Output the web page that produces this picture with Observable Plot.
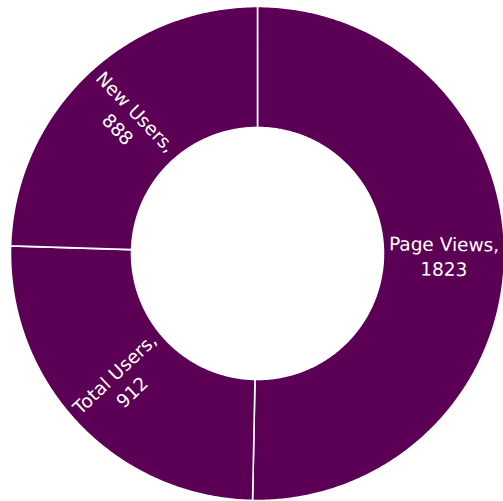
<!DOCTYPE html>
<html>
<head>
<meta charset="utf-8">
<script src="https://cdn.jsdelivr.net/npm/d3@7"></script>
<script src="https://cdn.jsdelivr.net/npm/@observablehq/plot@0.6"></script>
<style>
  html, body { margin: 0; padding: 0; background: #fff; }
  #chart { width: 503px; height: 501px; overflow: hidden; }
</style>
</head>
<body>
<div id="chart"></div>
<script>
// Data
const categories = ["Page Views", "Total Users", "New Users"];
const values = [1823, 912, 888];

// Geometry (in units of the outer radius)
const innerR = 0.51;
const outerR = 1;
const sliceColor = "#5c0055";

const pie = d3.pie().sort(null).value(d => d.value).startAngle(0).endAngle(2 * Math.PI);
const arcs = pie(categories.map((c, i) => ({category: c, value: values[i]})));

// Build slice outlines as polygons (data-space), plotted through Plot scales
const polyPts = [];
arcs.forEach(a => {
  const n = Math.max(8, Math.ceil((a.endAngle - a.startAngle) / (Math.PI / 360)));
  for (let k = 0; k <= n; k++) {
    const t = a.startAngle + (a.endAngle - a.startAngle) * k / n;
    polyPts.push({cat: a.data.category, x: outerR * Math.sin(t), y: outerR * Math.cos(t)});
  }
  for (let k = n; k >= 0; k--) {
    const t = a.startAngle + (a.endAngle - a.startAngle) * k / n;
    polyPts.push({cat: a.data.category, x: innerR * Math.sin(t), y: innerR * Math.cos(t)});
  }
});

// Labels: radial orientation
const midR = (innerR + outerR) / 2;
const labelData = arcs.map(a => {
  const m = (a.startAngle + a.endAngle) / 2;
  let rot = m * 180 / Math.PI - 90;
  while (rot > 90) rot -= 180;
  while (rot <= -90) rot += 180;
  return {
    x: midR * Math.sin(m),
    y: midR * Math.cos(m),
    rot,
    text: a.data.category + ",\n" + a.data.value
  };
});

const chart = Plot.plot({
  width: 503,
  height: 501,
  margin: 0,
  x: {domain: [-1.0405, 0.996], axis: null},
  y: {domain: [-1.004, 1.0243], axis: null},
  style: {background: "#fff"},
  marks: [
    Plot.line(polyPts, {x: "x", y: "y", z: "cat", fill: sliceColor, stroke: "#fff", strokeWidth: 1.6, curve: "linear-closed"}),
    Plot.text(labelData, {
      x: "x", y: "y", text: "text", rotate: "rot",
      fill: "#fff", fontSize: 18.5, lineHeight: 1.35,
      fontFamily: "'DejaVu Sans', sans-serif",
      textAnchor: "middle", lineAnchor: "middle"
    })
  ]
});
document.getElementById("chart").appendChild(chart);
</script>
</body>
</html>
